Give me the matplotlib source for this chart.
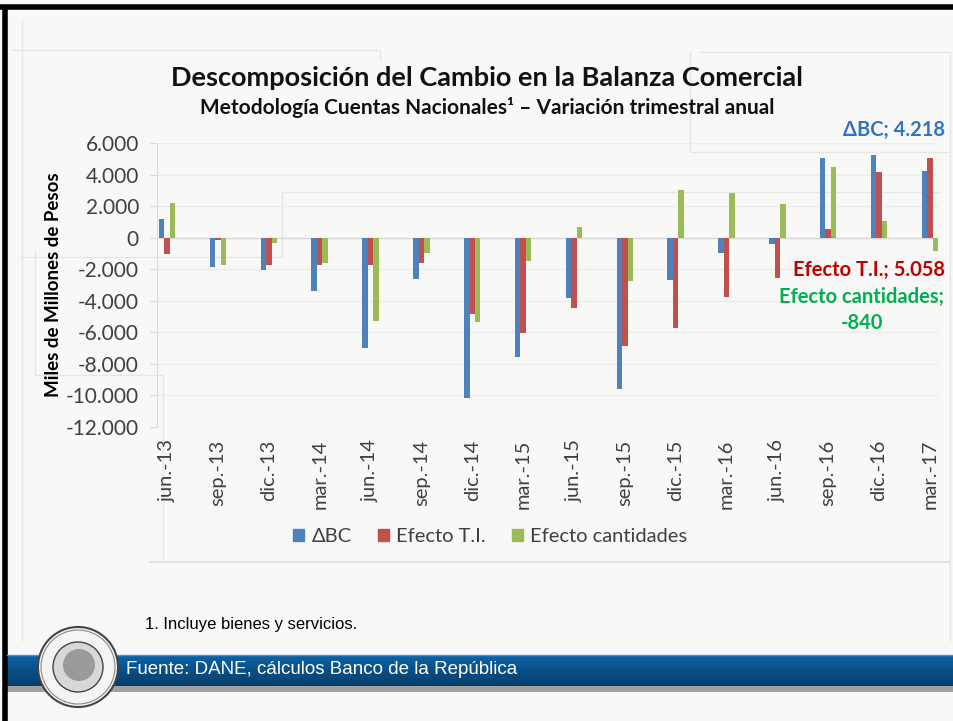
import matplotlib
matplotlib.use("Agg")
import matplotlib.pyplot as plt
import numpy as np
from matplotlib.patches import Rectangle, Circle, Patch
from matplotlib.ticker import FuncFormatter
from matplotlib.colors import LinearSegmentedColormap

categories = ["jun.-13", "sep.-13", "dic.-13", "mar.-14", "jun.-14", "sep.-14",
              "dic.-14", "mar.-15", "jun.-15", "sep.-15", "dic.-15", "mar.-16",
              "jun.-16", "sep.-16", "dic.-16", "mar.-17"]
delta_bc = [1200, -1860, -2070, -3380, -6990, -2600, -10150, -7550,
            -3830, -9580, -2700, -950, -400, 5020, 5210, 4218]
efecto_ti = [-1010, -130, -1750, -1750, -1750, -1630, -4850, -6040,
             -4460, -6840, -5700, -3770, -2540, 550, 4150, 5058]
efecto_cant = [2210, -1710, -320, -1630, -5280, -970, -5340, -1500,
               650, -2740, 3000, 2810, 2110, 4490, 1040, -840]
series_names = ["ΔBC", "Efecto T.I.", "Efecto cantidades"]
series_colors = ["#4F81BD", "#C0504D", "#9BBB59"]
yticks = [-12000, -10000, -8000, -6000, -4000, -2000, 0, 2000, 4000, 6000]

FONT = ["Lato", "DejaVu Sans"]
ARIAL = ["Liberation Sans", "DejaVu Sans"]
W, H = 954, 721

def fx(x):
    return x / W

def fy(y):
    return 1 - y / H

fig = plt.figure(figsize=(W / 100, H / 100), dpi=100, facecolor="#F8F8F6")

# background decoration layer
bg = fig.add_axes([0, 0, 1, 1], zorder=0)
bg.set_xlim(0, W)
bg.set_ylim(H, 0)
bg.axis("off")
faint = "#E6E6E4"
bg.plot([12, 380, 380], [50, 50, 60], color=faint, lw=1)
bg.plot([700, 950, 950], [52, 52, 640], color=faint, lw=1)
bg.plot([690, 690, 950], [52, 152, 152], color=faint, lw=1)
bg.plot([20, 282, 282, 940], [257, 257, 192, 192], color=faint, lw=1)
bg.plot([35, 35, 163, 163], [250, 375, 375, 560], color=faint, lw=1)
bg.plot([22, 22], [20, 640], color=faint, lw=1)
bg.plot([150, 950], [562, 562], color="#E2E2E0", lw=1.5)
# frame lines
bg.plot([0, W], [7, 7], color="black", lw=4, solid_capstyle="butt")
bg.plot([5, 5], [5, H], color="black", lw=4, solid_capstyle="butt")
# footer band with gradient
grad = np.linspace(0, 1, 64).reshape(-1, 1)
cmap = LinearSegmentedColormap.from_list("band", ["#0B63A8", "#0A4F86", "#063F6C"])
bg.imshow(grad, extent=[7, W, 686, 655], cmap=cmap, aspect="auto", zorder=1)
bg.add_patch(Rectangle((7, 686), W - 7, 6, color="#A0A0A0", zorder=1, lw=0))
bg.plot([7, W], [655, 655], color="#5A8FC0", lw=1, zorder=2)
# logo (seal)
bg.add_patch(Circle((78, 667), 40, facecolor="#F4F4F4", edgecolor="#444444", lw=1.5, zorder=3))
bg.add_patch(Circle((78, 667), 37, facecolor="none", edgecolor="#888888", lw=0.8, zorder=3))
bg.add_patch(Circle((78, 667), 25, facecolor="#D8D8D8", edgecolor="#444444", lw=1.0, zorder=4))
bg.add_patch(Circle((79, 665), 16, facecolor="#9A9A9A", edgecolor="none", zorder=5))

# chart axes
left, right, top, bottom = 157, 938, 143, 427
ax = fig.add_axes([fx(left), fy(bottom), fx(right) - fx(left), (bottom - top) / H], zorder=2)
ax.set_facecolor("none")

x = np.arange(len(categories))
bw = 0.108
for i, (vals, col, name) in enumerate(zip([delta_bc, efecto_ti, efecto_cant], series_colors, series_names)):
    ax.bar(x + (i - 1) * bw, vals, width=bw, color=col, label=name, zorder=3)

ax.set_xlim(-0.2, 15.16)
ax.set_ylim(-12000, 6000)
ax.set_yticks(yticks)
ax.yaxis.set_major_formatter(FuncFormatter(lambda v, p: f"{int(v):,}".replace(",", ".")))
ax.grid(axis="y", color="#ECECEC", lw=1, zorder=0)
ax.axhline(0, color="#D9D9D9", lw=1, zorder=2)
for s in ["top", "right", "bottom"]:
    ax.spines[s].set_visible(False)
ax.spines["left"].set_color("#D9D9D9")
ax.tick_params(axis="y", length=5, color="#D9D9D9", labelsize=15, labelcolor="#404040", pad=8)
ax.set_xticks(x)
ax.set_xticklabels(categories, rotation=90, fontsize=14.5, color="#404040", family=FONT)
ax.tick_params(axis="x", length=0, pad=9)
for t in ax.get_yticklabels():
    t.set_family(FONT)
ax.set_ylabel("Miles de Millones de Pesos", fontsize=13.5, fontweight="bold",
              family=FONT, color="black")
ax.yaxis.set_label_coords((62 - left) / (right - left), 0.5)

# titles
fig.text(fx(487), fy(78), "Descomposición del Cambio en la Balanza Comercial",
         ha="center", va="center", fontsize=19.5, fontweight="bold", family=FONT, color="#111111")
fig.text(fx(487), fy(107), "Metodología Cuentas Nacionales¹ – Variación trimestral anual",
         ha="center", va="center", fontsize=15, fontweight="bold", family=FONT, color="#111111")

# annotations
fig.text(fx(945), fy(130), "ΔBC; 4.218", ha="right", va="center", fontsize=14.5,
         fontweight="bold", family=FONT, color="#2E75C6")
fig.text(fx(945), fy(270), "Efecto T.I.; 5.058", ha="right", va="center", fontsize=14.5,
         fontweight="bold", family=FONT, color="#C00000")
fig.text(fx(862), fy(297), "Efecto cantidades;", ha="center", va="center", fontsize=14.5,
         fontweight="bold", family=FONT, color="#00B050")
fig.text(fx(862), fy(323), "-840", ha="center", va="center", fontsize=14.5,
         fontweight="bold", family=FONT, color="#00B050")

# legend
handles = [Patch(color=c, label=n) for c, n in zip(series_colors, series_names)]
leg = fig.legend(handles=handles, loc="center", bbox_to_anchor=(fx(490), fy(537)), ncol=3,
                 frameon=False, handlelength=0.55, handleheight=0.55,
                 handletextpad=0.35, columnspacing=1.3, prop={"family": FONT, "size": 14.5})
for t in leg.get_texts():
    t.set_color("#404040")

# footer texts
fig.text(fx(145), fy(625), "1. Incluye bienes y servicios.", ha="left", va="center",
         fontsize=12, family=ARIAL, color="black")
fig.text(fx(126), fy(669), "Fuente: DANE, cálculos Banco de la República", ha="left", va="center",
         fontsize=13.5, family=ARIAL, color="white", zorder=10)

fig.savefig("out.png", dpi=100, facecolor=fig.get_facecolor())
